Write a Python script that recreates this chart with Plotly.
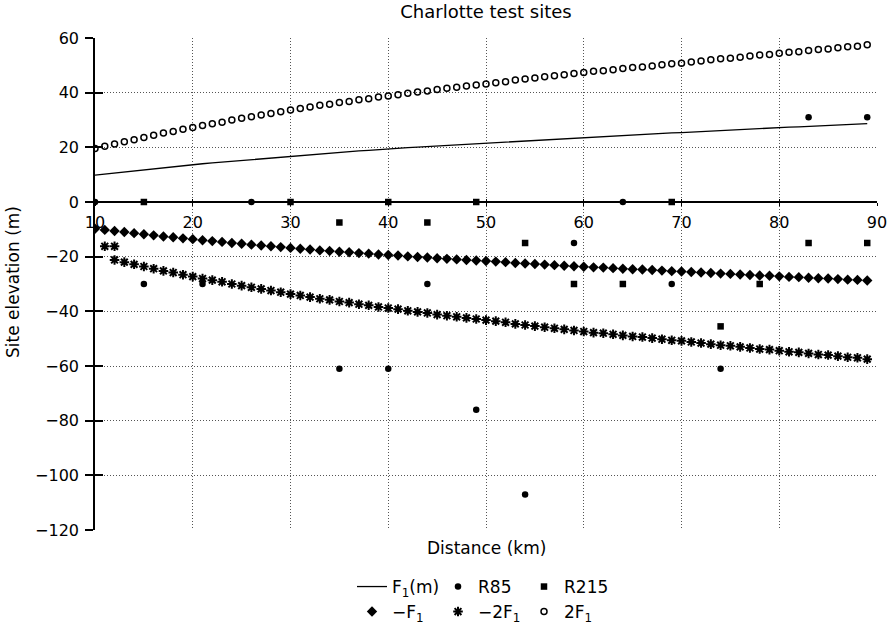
import plotly.graph_objects as go

# ---------------- data ----------------
DIST = list(range(10, 90))  # km, one point per km

F1 = [9.8, 10.2, 10.6, 11.0, 11.4, 11.8, 12.2, 12.6, 12.9, 13.3,
      13.6, 14.0, 14.3, 14.6, 15.0, 15.3, 15.6, 15.9, 16.2, 16.5,
      16.8, 17.1, 17.4, 17.7, 17.9, 18.2, 18.4, 18.7, 18.9, 19.2,
      19.4, 19.6, 19.9, 20.1, 20.3, 20.6, 20.8, 21.0, 21.2, 21.4,
      21.6, 21.8, 22.0, 22.3, 22.5, 22.7, 22.9, 23.1, 23.3, 23.5,
      23.7, 23.9, 24.0, 24.2, 24.4, 24.6, 24.7, 24.9, 25.1, 25.3,
      25.4, 25.6, 25.8, 26.0, 26.2, 26.3, 26.5, 26.7, 26.9, 27.0,
      27.2, 27.4, 27.5, 27.7, 27.9, 28.0, 28.2, 28.4, 28.5, 28.7]

TWO_F1 = [19.6, 20.4, 21.2, 22.0, 22.8, 23.6, 24.4, 25.2, 25.8, 26.6,
          27.3, 28.0, 28.6, 29.2, 30.0, 30.6, 31.2, 31.8, 32.4, 33.0,
          33.7, 34.2, 34.8, 35.4, 35.8, 36.4, 36.8, 37.4, 37.8, 38.4,
          38.8, 39.2, 39.8, 40.2, 40.6, 41.2, 41.6, 42.0, 42.4, 42.8,
          43.2, 43.6, 44.0, 44.6, 45.0, 45.4, 45.8, 46.2, 46.6, 47.0,
          47.4, 47.8, 48.0, 48.4, 48.8, 49.2, 49.4, 49.8, 50.2, 50.6,
          50.8, 51.2, 51.6, 52.0, 52.4, 52.6, 53.0, 53.4, 53.8, 54.0,
          54.4, 54.8, 55.0, 55.4, 55.8, 56.0, 56.4, 56.8, 57.0, 57.5]

NEG_F1 = [-v for v in F1]

# -2F1: two stray points near the start, then the regular series from 12 km
NEG_2F1_X = [11, 12] + DIST[2:]
NEG_2F1 = [-16.2, -16.2] + [-v for v in TWO_F1[2:]]

R85_X = [10, 15, 21, 26, 35, 40, 44, 49, 54, 59, 64, 69, 74, 83, 89]
R85_Y = [0, -30, -30, 0, -61, -61, -30, -76, -107, -15, 0, -30, -61, 31, 31]

R215_X = [15, 30, 35, 40, 44, 49, 54, 59, 64, 69, 74, 78, 83, 89]
R215_Y = [0, 0, -7.5, 0, -7.5, 0, -15, -30, -30, 0, -45.5, -30, -15, -15]

X_TICKS = [10, 20, 30, 40, 50, 60, 70, 80, 90]
Y_TICKS = [60, 40, 20, 0, -20, -40, -60, -80, -100, -120]
X_RANGE = [10, 90]
Y_RANGE = [-120, 60]

TITLE = "Charlotte test sites"
X_TITLE = "Distance (km)"
Y_TITLE = "Site elevation (m)"

# ---------------- figure ----------------
FONT = "DejaVu Sans, Liberation Sans, Arial, sans-serif"
W, H = 888, 631
ML, MR, MT, MB = 95, 11, 38, 101
PW, PH = W - ML - MR, H - MT - MB

fig = go.Figure()

fig.add_trace(go.Scatter(x=DIST, y=F1, mode="lines", name="F<sub>1</sub>(m)",
                         line=dict(color="black", width=1.3), legend="legend"))
fig.add_trace(go.Scatter(x=R85_X, y=R85_Y, mode="markers", name="R85",
                         marker=dict(symbol="circle", size=6.5, color="black"),
                         legend="legend"))
fig.add_trace(go.Scatter(x=R215_X, y=R215_Y, mode="markers", name="R215",
                         marker=dict(symbol="square", size=6.5, color="black"),
                         legend="legend"))
fig.add_trace(go.Scatter(x=DIST, y=NEG_F1, mode="markers", name="\u2212F<sub>1</sub>",
                         marker=dict(symbol="diamond", size=8, color="black"),
                         legend="legend2"))
fig.add_trace(go.Scatter(x=NEG_2F1_X, y=NEG_2F1, mode="markers", name="\u22122F<sub>1</sub>",
                         marker=dict(symbol="asterisk-open", size=8, color="black",
                                     line=dict(color="black", width=2)),
                         legend="legend2"))
fig.add_trace(go.Scatter(x=DIST, y=TWO_F1, mode="markers", name="2F<sub>1</sub>",
                         marker=dict(symbol="circle-open", size=6, color="black",
                                     line=dict(color="black", width=1.5)),
                         legend="legend2"))
# empty trace that carries the overlay axes used for the inner half of the crossing ticks
fig.add_trace(go.Scatter(x=[], y=[], xaxis="x2", yaxis="y2", showlegend=False,
                         hoverinfo="skip"))

zero_pos = (0 - Y_RANGE[0]) / (Y_RANGE[1] - Y_RANGE[0])

grid = dict(showgrid=True, gridcolor="#555", griddash="1px,2px", gridwidth=1)

legend_common = dict(orientation="h", x=(352 - ML) / PW, xanchor="left",
                     yanchor="middle", font=dict(size=17), entrywidth=41,
                     itemwidth=30, bgcolor="rgba(0,0,0,0)", tracegroupgap=0)

fig.update_layout(
    width=W, height=H,
    margin=dict(l=ML, r=MR, t=MT, b=MB, autoexpand=False),
    paper_bgcolor="white", plot_bgcolor="white",
    font=dict(family=FONT, size=16, color="black"),
    title=dict(text=TITLE, x=(486 - ML) / PW, xanchor="center", xref="paper",
               y=1 - 12 / H, yanchor="middle", font=dict(size=18)),
    xaxis=dict(range=X_RANGE, tickvals=X_TICKS, ticks="outside", ticklen=3,
               tickwidth=1.3, tickcolor="black", ticklabelstandoff=3,
               anchor="free", position=zero_pos,
               showline=True, linecolor="black", linewidth=1.5,
               zeroline=False, **grid),
    yaxis=dict(range=Y_RANGE, tickvals=Y_TICKS, ticks="outside", ticklen=8,
               tickwidth=1.5, tickcolor="black",
               showline=True, linecolor="black", linewidth=1.5,
               zeroline=False, ticklabelstandoff=3, **grid),
    xaxis2=dict(range=X_RANGE, tickvals=X_TICKS, ticks="inside", ticklen=3,
                tickwidth=1.3, tickcolor="black", overlaying="x",
                anchor="free", position=zero_pos, showticklabels=False,
                showgrid=False, zeroline=False, showline=False),
    yaxis2=dict(range=Y_RANGE, tickvals=Y_TICKS, ticks="inside", ticklen=8,
                tickwidth=1.5, tickcolor="black", overlaying="y", side="left",
                anchor="x", showticklabels=False, showgrid=False,
                zeroline=False, showline=False),
    legend=dict(y=-(587 - (MT + PH)) / PH, **legend_common),
    legend2=dict(y=-(612 - (MT + PH)) / PH, **legend_common),
    showlegend=True,
    annotations=[
        dict(text=X_TITLE, x=(486 - ML) / PW, xref="paper",
             y=-(548 - (MT + PH)) / PH, yref="paper",
             xanchor="center", yanchor="middle", showarrow=False,
             font=dict(size=17)),
        dict(text=Y_TITLE, x=(13 - ML) / PW, xref="paper", y=(MT + PH - 282) / PH,
             yref="paper", xanchor="center", yanchor="middle", showarrow=False,
             textangle=-90, font=dict(size=17)),
    ],
)

# remove the browser's default 8px body margin so the figure sits at the page origin
fig.write_html("out.html", config={"displayModeBar": False},
               post_script="document.body.style.margin='0px';")
